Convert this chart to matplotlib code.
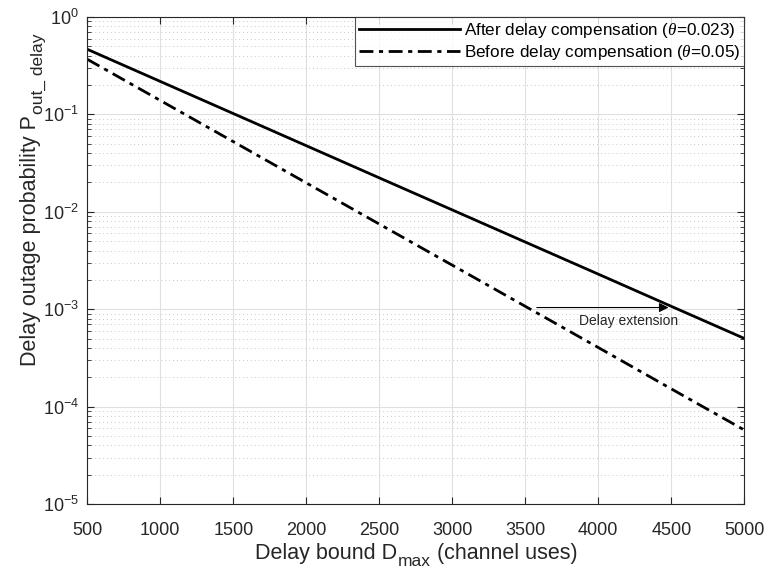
import matplotlib
matplotlib.use("Agg")
import matplotlib.pyplot as plt
from matplotlib.ticker import LogLocator, NullFormatter, FixedLocator
from matplotlib.transforms import IdentityTransform

plt.rcParams['font.family'] = ['Liberation Sans', 'DejaVu Sans']
plt.rcParams['mathtext.fontset'] = 'custom'
plt.rcParams['mathtext.rm'] = 'Liberation Sans'
plt.rcParams['mathtext.it'] = 'Liberation Serif:italic'

# Data
d_max = [500, 1000, 1500, 2000, 2500, 3000, 3500, 4000, 4500, 5000]
p_after = [0.466, 0.218, 0.102, 0.0477, 0.0223, 0.01045, 0.00489, 0.00229, 0.00107, 0.000501]
p_before = [0.368, 0.139, 0.0525, 0.0198, 0.00748, 0.00283, 0.00107, 0.000404, 0.000152, 5.75e-5]
label_after = r'After delay compensation ($\theta$=0.023)'
label_before = r'Before delay compensation ($\theta$=0.05)'
x_ticks = [500, 1000, 1500, 2000, 2500, 3000, 3500, 4000, 4500, 5000]
arrow_start = (3560, 1.04e-3)
arrow_end = (4500, 1.04e-3)
arrow_text = 'Delay extension'
text_pos = (4210, 7.6e-4)
xlabel_parts = ('Delay bound D', 'max', ' (channel uses)')
ylabel_parts = ('Delay outage probability P', 'out_ delay')

TXT = '#262626'
fig = plt.figure(figsize=(7.67, 5.70), dpi=100)
ax = fig.add_axes([0.1138, 0.1158, 0.8566, 0.8544])

ax.plot(d_max, p_after, color='black', lw=2.0, ls='-', label=label_after)
ax.plot(d_max, p_before, color='black', lw=2.0, ls=(0, (5, 2, 1.5, 2)), label=label_before)

ax.set_yscale('log')
ax.set_xlim(500, 5000)
ax.set_ylim(1e-5, 1e0)
ax.xaxis.set_major_locator(FixedLocator(x_ticks))
ax.yaxis.set_major_locator(LogLocator(base=10, numticks=10))
ax.yaxis.set_minor_locator(LogLocator(base=10, subs=range(2, 10), numticks=100))
ax.yaxis.set_minor_formatter(NullFormatter())

ax.grid(True, which='major', color='#e0e0e0', lw=0.8, ls='-')
ax.grid(True, which='minor', axis='y', color='#c8c8c8', lw=0.7, ls=(0, (1, 3)))
ax.set_axisbelow(True)

ax.tick_params(which='both', direction='in', top=True, right=True, colors=TXT, labelsize=13)
ax.tick_params(which='major', length=5)
ax.tick_params(which='minor', length=3)
ax.tick_params(axis='x', which='major', pad=13)
ax.tick_params(axis='y', which='major', pad=6)
for s in ax.spines.values():
    s.set_color(TXT)
    s.set_linewidth(0.8)

ax.annotate('', xy=arrow_end, xytext=arrow_start,
            arrowprops=dict(arrowstyle='-|>', color='black', lw=0.8, mutation_scale=14))
ax.text(text_pos[0], text_pos[1], arrow_text, fontsize=10, ha='center', va='center', color=TXT)

leg = ax.legend(loc='upper right', fontsize=12.3, frameon=True, fancybox=False,
                borderaxespad=0, handlelength=5.9, handletextpad=0.2,
                borderpad=0.25, labelspacing=0.15, edgecolor=TXT)
leg.get_frame().set_linewidth(0.8)

# --- composed axis labels (MATLAB-style large subscripts), in pixel coords ---
H = 570
renderer = fig.canvas.get_renderer()
MAIN_FS, SUB_FS = 15.5, 12.5


def text_width(s, fs):
    t = fig.text(0, 0, s, fontsize=fs, transform=IdentityTransform())
    w = t.get_window_extent(renderer).width
    t.remove()
    return w


# x label: centered on axes
w1 = text_width(xlabel_parts[0], MAIN_FS)
w2 = text_width(xlabel_parts[1], SUB_FS)
w3 = text_width(xlabel_parts[2], MAIN_FS)
cx = (87.3 + 744.3) / 2
x0 = cx - (w1 + w2 + w3) / 2
yb = H - 559
kw = dict(transform=IdentityTransform(), color=TXT, ha='left', va='baseline')
fig.text(x0, yb, xlabel_parts[0], fontsize=MAIN_FS, **kw)
fig.text(x0 + w1 + 1, yb - 7, xlabel_parts[1], fontsize=SUB_FS, **kw)
fig.text(x0 + w1 + w2 + 1, yb, xlabel_parts[2], fontsize=MAIN_FS, **kw)

# y label: rotated
v1 = text_width(ylabel_parts[0], MAIN_FS)
v2 = text_width(ylabel_parts[1], SUB_FS)
xb = 36
y0 = H - 366
kwr = dict(transform=IdentityTransform(), color=TXT, ha='left', va='baseline',
           rotation=90, rotation_mode='anchor')
fig.text(xb, y0, ylabel_parts[0], fontsize=MAIN_FS, **kwr)
fig.text(xb + 7, y0 + v1 + 1, ylabel_parts[1], fontsize=SUB_FS, **kwr)

fig.savefig('out.png', dpi=100)
